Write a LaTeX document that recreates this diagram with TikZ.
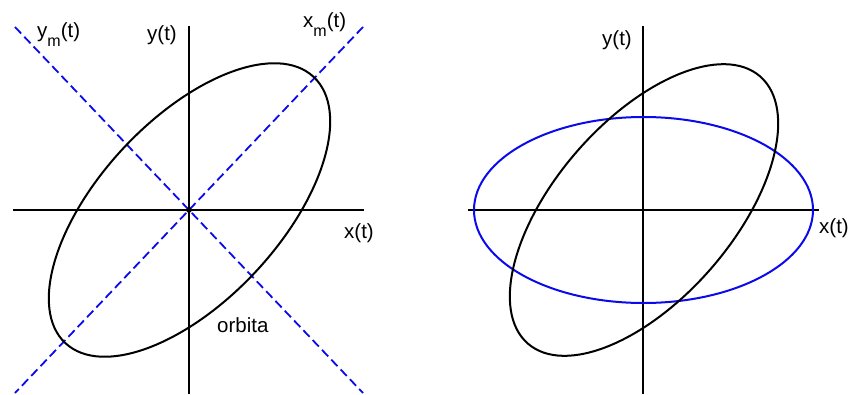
\documentclass[tikz,border=0pt]{standalone}
\usepackage{fontspec}
\setmainfont{Liberation Sans}
\definecolor{orbblue}{RGB}{10,10,235}
\begin{document}
\begin{tikzpicture}[x=1pt,y=-1pt,
  axis/.style={line width=2pt,black},
  orb/.style={line width=2pt,black},
  mainaxis/.style={line width=1.8pt,orbblue,dash pattern=on 9pt off 4.5pt},
  blueorb/.style={line width=2pt,orbblue},
  lbl/.style={inner sep=0pt,anchor=base west,font=\fontsize{20.5}{21}\selectfont}]
\useasboundingbox (0,0) rectangle (849,394);
% ---------- left diagram ----------
\coordinate (lxa) at (13,210);
\coordinate (lxb) at (364,210);
\coordinate (lya) at (189,26);
\coordinate (lyb) at (189,394);
\coordinate (lo) at (189,210);
\coordinate (ymA) at (15,27);
\coordinate (ymB) at (363,393);
\coordinate (xmA) at (363,27);
\coordinate (xmB) at (15,393);
\draw[axis] (lxa) -- (lxb);
\draw[axis] (lya) -- (lyb);
\draw[mainaxis] (ymA) -- (ymB);
\draw[mainaxis] (xmA) -- (xmB);
\begin{scope}[shift={(189.5,210)},rotate=47]
  \draw[orb] (0,0) ellipse [x radius=182, y radius=90.5];
\end{scope}
\fill[black] (lo) circle (2.8pt);
\node[lbl] (lblym) at (37,37) {y\raisebox{-9pt}{\fontsize{16}{16}\selectfont m}(t)};
\node[lbl] (lblxm) at (303,27) {x\raisebox{-9pt}{\fontsize{16}{16}\selectfont m}(t)};
\node[lbl] (lbly) at (147,40) {y(t)};
\node[lbl] (lblx) at (344,238) {x(t)};
\node[lbl] (lblorb) at (217,332) {orbita};
% ---------- right diagram ----------
\coordinate (rxa) at (468,210);
\coordinate (rxb) at (819,210);
\coordinate (rya) at (643,26);
\coordinate (ryb) at (643,394);
\draw[axis] (rxa) -- (rxb);
\draw[axis] (rya) -- (ryb);
\draw[blueorb] (643.5,210) ellipse [x radius=169.5, y radius=93];
\begin{scope}[shift={(644,210)},rotate=49]
  \draw[orb] (0,0) ellipse [x radius=177, y radius=89];
\end{scope}
\node[lbl] (rlbly) at (602,45) {y(t)};
\node[lbl] (rlblx) at (819,233) {x(t)};
\end{tikzpicture}
\end{document}
